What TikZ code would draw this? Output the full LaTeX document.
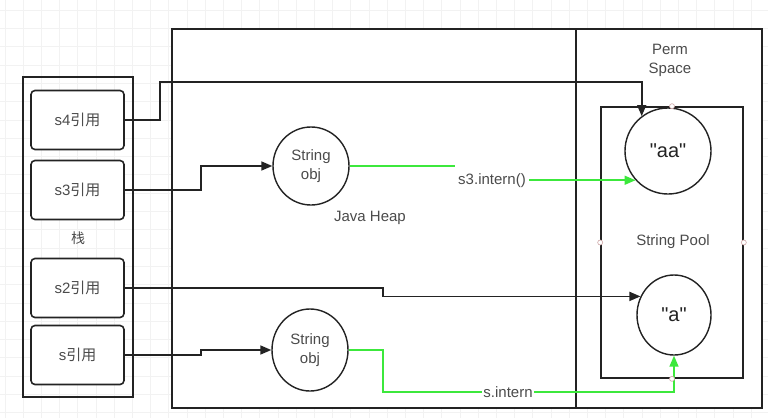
\documentclass[tikz,border=0pt]{standalone}
\usepackage{fontspec}
\setmainfont{Liberation Sans}
\newfontfamily\cjk{Noto Sans CJK SC}
\newfontfamily\strfont{Liberation Sans}[Ligatures=TeXOff]
\usetikzlibrary{arrows.meta,shapes.geometric}
\definecolor{ink}{RGB}{35,35,35}
\definecolor{txt}{RGB}{75,75,75}
\definecolor{jade}{RGB}{60,232,60}
\definecolor{dotc}{RGB}{205,165,165}
\definecolor{gridc}{RGB}{242,242,242}
\tikzset{
	frame/.style={draw=ink, line width=1.6pt},
	refbox/.style={draw=ink, line width=1.6pt, rounded corners=4pt, fill=white, minimum width=93pt, minimum height=59pt, text=txt, font=\fontsize{15}{18}\selectfont},
	obj/.style={ellipse, draw=ink, line width=1.4pt, fill=white, inner sep=0pt, align=center, text=txt, font=\fontsize{15}{18.5}\selectfont},
	strval/.style={draw=ink, line width=1.4pt, fill=white, inner sep=0pt, text=ink, font=\fontsize{20}{22}\strfont},
	lbl/.style={text=txt, align=center, font=\fontsize{15}{19}\selectfont},
	link/.style={draw=ink, line width=1.6pt, -{Triangle[length=11pt,width=9pt]}},
	glink/.style={draw=jade, line width=1.6pt},
	joint/.style={circle, draw=dotc, fill=white, inner sep=0pt, minimum size=5pt, line width=0.6pt}
	}

\begin{document}
\begin{tikzpicture}[x=1pt, y=-1pt]

	\useasboundingbox (0,0) rectangle (768,418);
	% canvas grid
	\foreach \i in {0,...,41} \draw[gridc, line width=0.6pt] ({4.8+18.2*\i},0) -- ++(0,418);
	\foreach \j in {0,...,22} \draw[gridc, line width=0.6pt] (0,{10+18.3*\j}) -- ++(768,0);

	% heap and perm space
	\draw[frame, fill=white] (172,29) rectangle (576,408);
	\draw[frame, fill=white] (576,29) rectangle (762,408);
	\node[draw=ink, line width=1.6pt, minimum width=142pt, minimum height=271pt] (pool) at (672,242.5) {};

	% stack
	\draw[frame] (23,77) rectangle (133,397);
	\node[refbox] (s4) at (77.5,120) {s4{\cjk 引用}};
	\node[refbox] (s3) at (77.5,190) {s3{\cjk 引用}};
	\node[lbl, font=\fontsize{14}{16}\cjk] (stack) at (78,238) {栈};
	\node[refbox] (s2) at (77.5,288) {s2{\cjk 引用}};
	\node[refbox] (s) at (77.5,355) {s{\cjk 引用}};

	% objects
	\node[obj, minimum width=76pt, minimum height=78pt] (objA) at (311,166) {String\\obj};
	\node[obj, minimum width=76pt, minimum height=82pt] (objB) at (310,350) {String\\obj};
	\node[strval, circle, minimum size=86pt] (aa) at (668,151) {"aa"};
	\node[strval, ellipse, minimum width=74pt, minimum height=80pt] (a) at (674,315) {"a"};

	% annotation
	\node[lbl] (heap) at (370,218) {Java Heap};
	\node[lbl] (perm) at (670,60) {Perm\\Space};
	\node[lbl] (poolname) at (673,242) {String Pool};

	% references
	\draw[link] (s4.east) -| (160,82) -| (aa.127);
	\draw[link] (s3.east) -- ++(76,0) |- (objA.west);
	\draw[link] (s2.east) -- ++(258,0) |- (a.151);
	\draw[link] (s.east) -- ++(76,0) |- (objB.west);

	% intern calls
	\node[lbl] (intA) at (492,181) {s3.intern()};
	\draw[glink] (objA.east) -- (objA.east -| intA.west);
	\draw[glink, -{Triangle[length=11pt,width=9pt]}] (intA.east |- aa.222) -- (aa.222);
	\draw[glink, -{Triangle[length=11pt,width=9pt]}] (objB.east) -| (383,392) -| (a.south);
	\node[lbl, fill=white, inner sep=1pt] (intB) at (508,392) {s.intern};

	% connection points
	\node[joint] (pn) at (pool.north) {};
	\node[joint] (pw) at (pool.west) {};
	\node[joint] (pe) at (pool.east) {};
	\node[joint] (ps) at (pool.south) {};

\end{tikzpicture}
\end{document}
